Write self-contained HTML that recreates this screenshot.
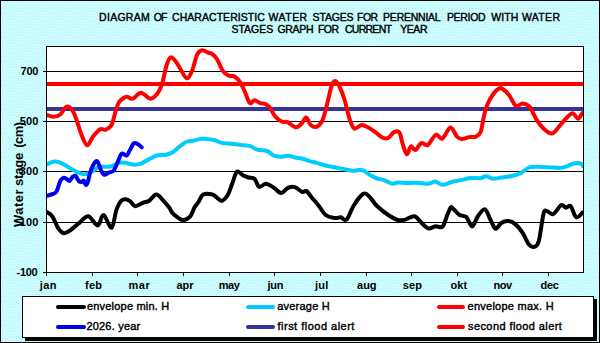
<!DOCTYPE html>
<html><head><meta charset="utf-8"><style>
html,body{margin:0;padding:0;background:#ccffff;width:600px;height:343px;overflow:hidden}
svg{display:block}
.t{font-family:"Liberation Sans",sans-serif;font-weight:bold;font-size:11px;fill:#000}
.ty{font-family:"Liberation Sans",sans-serif;font-weight:bold;font-size:13px;fill:#000}
.tt{font-family:"Liberation Sans",sans-serif;font-weight:normal;font-size:10.5px;fill:#000;stroke:#000;stroke-width:0.4px}
.tl{font-family:"Liberation Sans",sans-serif;font-weight:normal;font-size:11px;fill:#000;stroke:#000;stroke-width:0.4px}
</style></head><body>
<svg width="600" height="343" viewBox="0 0 600 343">
<defs>
<pattern id="dots" width="6" height="6" patternUnits="userSpaceOnUse">
<rect width="6" height="6" fill="#ccffff"/>
<rect x="0" y="0" width="1" height="1" fill="#bce8f0"/>
<rect x="3" y="0" width="1" height="1" fill="#bce8f0"/>
<rect x="1" y="2" width="1" height="1" fill="#bce8f0"/>
<rect x="4" y="2" width="1" height="1" fill="#bce8f0"/>
<rect x="2" y="4" width="1" height="1" fill="#bce8f0"/>
<rect x="5" y="4" width="1" height="1" fill="#bce8f0"/>
</pattern>
<clipPath id="pc"><rect x="46" y="46" width="538" height="227"/></clipPath>
</defs>
<rect x="0" y="0" width="600" height="343" fill="url(#dots)"/>
<rect x="0" y="0" width="600" height="1" fill="#000"/><rect x="0" y="0" width="1" height="343" fill="#000"/><rect x="599" y="0" width="1" height="343" fill="#000"/><rect x="0" y="342" width="600" height="1" fill="#000"/>
<rect x="46.5" y="46.5" width="537" height="226" fill="#fff"/>
<line x1="46" y1="71.5" x2="583" y2="71.5" stroke="#000" stroke-width="1"/><line x1="46" y1="121.5" x2="583" y2="121.5" stroke="#000" stroke-width="1"/><line x1="46" y1="171.5" x2="583" y2="171.5" stroke="#000" stroke-width="1"/><line x1="46" y1="222.5" x2="583" y2="222.5" stroke="#000" stroke-width="1"/><line x1="43" y1="71.5" x2="46" y2="71.5" stroke="#000" stroke-width="1"/><text x="20.5" y="75.1" class="t" textLength="17.9" lengthAdjust="spacing">700</text><line x1="43" y1="121.5" x2="46" y2="121.5" stroke="#000" stroke-width="1"/><text x="19.7" y="125.1" class="t" textLength="18.7" lengthAdjust="spacing">500</text><line x1="43" y1="171.5" x2="46" y2="171.5" stroke="#000" stroke-width="1"/><text x="19.7" y="175.1" class="t" textLength="18.7" lengthAdjust="spacing">300</text><line x1="43" y1="222.5" x2="46" y2="222.5" stroke="#000" stroke-width="1"/><text x="19.7" y="226.1" class="t" textLength="18.7" lengthAdjust="spacing">100</text><line x1="43" y1="272.5" x2="46" y2="272.5" stroke="#000" stroke-width="1"/><text x="16.6" y="276.1" class="t" textLength="20.9" lengthAdjust="spacing">-100</text><line x1="46.5" y1="272" x2="46.5" y2="276" stroke="#000" stroke-width="1"/><text x="39.7" y="288.5" class="t" textLength="16.8" lengthAdjust="spacing">jan</text><line x1="92.5" y1="272" x2="92.5" y2="276" stroke="#000" stroke-width="1"/><text x="85.0" y="288.5" class="t" textLength="17.0" lengthAdjust="spacing">feb</text><line x1="137.5" y1="272" x2="137.5" y2="276" stroke="#000" stroke-width="1"/><text x="128.6" y="288.5" class="t" textLength="21.1" lengthAdjust="spacing">mar</text><line x1="183.5" y1="272" x2="183.5" y2="276" stroke="#000" stroke-width="1"/><text x="176.4" y="288.5" class="t" textLength="17.2" lengthAdjust="spacing">apr</text><line x1="229.5" y1="272" x2="229.5" y2="276" stroke="#000" stroke-width="1"/><text x="218.8" y="288.5" class="t" textLength="21.0" lengthAdjust="spacing">may</text><line x1="274.5" y1="272" x2="274.5" y2="276" stroke="#000" stroke-width="1"/><text x="267.4" y="288.5" class="t" textLength="16.2" lengthAdjust="spacing">jun</text><line x1="320.5" y1="272" x2="320.5" y2="276" stroke="#000" stroke-width="1"/><text x="315.1" y="288.5" class="t" textLength="13.2" lengthAdjust="spacing">jul</text><line x1="366.5" y1="272" x2="366.5" y2="276" stroke="#000" stroke-width="1"/><text x="357.1" y="288.5" class="t" textLength="19.5" lengthAdjust="spacing">aug</text><line x1="411.5" y1="272" x2="411.5" y2="276" stroke="#000" stroke-width="1"/><text x="402.8" y="288.5" class="t" textLength="19.1" lengthAdjust="spacing">sep</text><line x1="457.5" y1="272" x2="457.5" y2="276" stroke="#000" stroke-width="1"/><text x="450.6" y="288.5" class="t" textLength="16.5" lengthAdjust="spacing">okt</text><line x1="502.5" y1="272" x2="502.5" y2="276" stroke="#000" stroke-width="1"/><text x="493.5" y="288.5" class="t" textLength="18.6" lengthAdjust="spacing">nov</text><line x1="548.5" y1="272" x2="548.5" y2="276" stroke="#000" stroke-width="1"/><text x="540.6" y="288.5" class="t" textLength="18.3" lengthAdjust="spacing">dec</text>
<g clip-path="url(#pc)">
<line x1="46" y1="84" x2="583" y2="84" stroke="#ff0000" stroke-width="4"/><line x1="46" y1="109" x2="583" y2="109" stroke="#333399" stroke-width="4"/><path d="M46.0,211.5 C47.0,212.3 50.2,213.5 52.2,216.2 C54.2,218.9 56.1,225.0 58.0,227.8 C59.9,230.6 61.5,233.0 63.8,233.2 C66.1,233.4 69.5,230.7 72.0,229.0 C74.5,227.3 76.3,225.2 79.0,223.1 C81.7,221.0 85.2,215.8 88.3,216.2 C91.4,216.6 95.1,225.7 97.6,225.5 C100.1,225.3 101.2,214.6 103.5,215.0 C105.8,215.4 109.5,228.6 111.6,227.8 C113.7,227.0 114.7,214.8 116.3,210.3 C117.9,205.8 119.4,202.8 121.0,201.0 C122.6,199.2 124.2,199.1 125.8,199.2 C127.4,199.3 128.9,200.3 130.5,201.5 C132.1,202.7 133.1,206.0 135.2,206.2 C137.3,206.4 141.0,203.6 143.3,202.7 C145.6,201.8 147.0,202.2 149.2,200.8 C151.3,199.4 153.9,194.6 156.2,194.5 C158.5,194.4 161.0,198.2 163.1,200.3 C165.2,202.4 167.4,205.2 169.0,207.3 C170.6,209.4 170.9,211.3 172.5,213.1 C174.1,214.8 176.6,216.6 178.3,217.8 C180.1,219.0 181.1,220.3 183.0,220.1 C184.9,219.9 188.1,218.7 190.0,216.6 C191.9,214.5 193.2,209.7 194.6,207.3 C196.0,204.9 197.1,204.1 198.5,202.0 C199.9,199.9 200.9,195.8 203.2,194.5 C205.5,193.2 210.2,193.9 212.5,194.5 C214.8,195.1 215.6,196.8 217.2,197.8 C218.8,198.9 220.1,201.3 221.8,200.8 C223.6,200.3 225.9,197.9 227.7,195.0 C229.4,192.1 230.8,187.2 232.3,183.3 C233.9,179.4 235.2,173.0 237.0,171.7 C238.8,170.3 240.9,174.2 242.8,175.2 C244.7,176.2 246.7,176.9 248.6,177.5 C250.5,178.1 252.8,177.1 254.5,178.7 C256.2,180.2 257.2,186.0 259.1,186.8 C261.0,187.7 263.6,183.6 266.1,183.8 C268.6,184.0 271.5,186.3 274.0,187.8 C276.5,189.3 278.7,193.0 281.0,193.0 C283.3,193.0 285.7,188.8 288.0,187.8 C290.3,186.8 292.7,186.4 295.0,187.1 C297.3,187.8 300.1,191.1 302.0,191.8 C303.9,192.5 305.0,190.2 306.6,191.1 C308.2,192.0 309.7,195.1 311.7,197.5 C313.7,199.9 316.4,202.8 318.7,205.7 C321.0,208.6 323.0,212.9 325.7,215.0 C328.4,217.1 332.5,217.6 335.0,218.0 C337.5,218.4 338.9,217.0 340.8,217.3 C342.7,217.6 344.5,221.5 346.6,219.6 C348.7,217.7 350.9,210.0 353.6,205.7 C356.3,201.4 360.5,195.6 363.0,194.0 C365.5,192.4 366.5,193.9 368.8,195.9 C371.1,197.9 373.6,202.7 377.0,206.0 C380.4,209.3 385.4,213.2 389.0,215.5 C392.6,217.8 395.6,219.4 398.3,220.1 C401.0,220.8 402.6,220.2 405.3,219.6 C408.0,218.9 411.9,215.6 414.6,216.2 C417.3,216.8 419.3,221.0 421.6,223.1 C423.9,225.2 426.3,228.0 428.6,228.5 C430.9,229.0 433.3,226.5 435.6,226.2 C437.9,225.9 440.7,228.5 442.6,226.6 C444.6,224.7 445.9,218.2 447.3,215.0 C448.7,211.8 449.8,208.5 450.8,207.5 C451.8,206.5 452.1,207.8 453.5,209.0 C454.9,210.2 457.2,213.5 459.3,214.8 C461.4,216.2 464.2,215.2 466.3,217.1 C468.4,219.0 470.2,226.7 472.2,226.5 C474.1,226.3 475.9,218.8 478.0,216.0 C480.1,213.2 482.9,208.6 485.0,209.4 C487.1,210.2 489.1,217.4 490.8,220.6 C492.6,223.8 493.8,228.4 495.5,228.8 C497.2,229.2 499.2,224.3 501.3,223.0 C503.4,221.7 506.0,220.9 508.3,221.1 C510.6,221.3 513.0,222.2 515.3,224.1 C517.6,226.0 520.0,228.9 522.3,232.3 C524.6,235.7 527.1,242.2 529.0,244.6 C530.9,247.0 532.3,247.4 533.9,246.9 C535.5,246.4 537.1,246.9 538.7,241.4 C540.3,235.9 542.2,219.2 543.5,214.1 C544.8,209.0 545.1,210.9 546.7,210.9 C548.3,210.9 550.7,215.1 553.1,214.1 C555.5,213.1 559.0,206.3 561.1,205.2 C563.2,204.1 564.3,207.5 565.9,207.7 C567.5,207.8 569.0,204.5 570.7,206.1 C572.4,207.7 574.2,216.2 576.2,217.3 C578.2,218.4 581.5,213.3 582.5,212.5" fill="none" stroke="#000000" stroke-width="4" stroke-linecap="round" stroke-linejoin="round"/><path d="M46.0,164.8 C47.4,164.3 51.5,161.8 54.2,161.6 C56.9,161.4 59.3,162.2 62.4,163.6 C65.5,164.9 69.0,167.9 72.6,169.7 C76.2,171.5 80.7,173.8 83.8,174.2 C86.9,174.6 88.4,173.4 91.0,172.2 C93.6,170.9 96.1,167.6 99.2,166.7 C102.3,165.8 105.7,167.4 109.4,166.7 C113.1,166.0 117.5,162.9 121.6,162.6 C125.7,162.2 130.7,164.4 133.9,164.6 C137.1,164.8 138.8,164.3 141.0,163.6 C143.2,162.8 144.7,161.4 147.3,160.1 C149.9,158.8 153.5,156.4 156.6,155.5 C159.7,154.6 163.3,155.4 166.0,154.8 C168.7,154.2 170.7,153.4 173.0,152.0 C175.3,150.6 177.7,147.9 180.0,146.2 C182.3,144.4 184.8,142.4 187.0,141.5 C189.2,140.6 190.8,141.3 193.2,140.8 C195.6,140.3 198.8,139.0 201.3,138.7 C203.8,138.4 206.0,138.9 208.3,139.2 C210.6,139.5 213.0,139.7 215.3,140.3 C217.6,141.0 219.6,142.5 222.3,143.1 C225.0,143.7 228.5,143.5 231.6,143.8 C234.7,144.1 237.9,144.6 241.0,145.0 C244.1,145.4 247.6,145.4 250.3,146.2 C253.0,147.0 254.5,148.8 257.3,149.6 C260.1,150.4 264.2,150.0 267.0,151.0 C269.8,152.0 271.7,154.7 274.0,155.7 C276.3,156.7 278.7,156.8 281.0,156.8 C283.3,156.8 285.7,155.6 288.0,155.7 C290.3,155.8 292.7,157.0 295.0,157.5 C297.3,158.0 299.7,157.9 302.0,158.5 C304.3,159.1 306.7,160.1 309.0,160.8 C311.3,161.5 313.3,161.9 316.0,162.7 C318.7,163.5 322.2,164.7 325.3,165.5 C328.4,166.3 331.4,166.7 334.6,167.3 C337.8,167.9 341.1,168.6 344.3,169.2 C347.5,169.8 350.8,170.7 353.7,170.8 C356.6,170.9 359.1,169.2 361.8,169.9 C364.5,170.6 367.5,173.6 370.0,175.0 C372.5,176.4 374.7,177.7 377.0,178.5 C379.3,179.3 381.5,179.2 384.0,180.1 C386.5,181.0 389.8,183.4 392.1,183.8 C394.4,184.2 395.5,182.5 398.0,182.4 C400.5,182.3 404.2,183.1 407.3,183.1 C410.4,183.1 413.2,182.6 416.7,182.7 C420.2,182.8 425.2,184.0 428.3,183.8 C431.4,183.6 433.0,181.3 435.3,181.5 C437.6,181.7 439.6,184.7 442.3,184.8 C445.0,184.9 448.5,182.8 451.6,182.0 C454.7,181.2 457.9,180.8 461.0,180.1 C464.1,179.4 467.1,178.3 470.3,178.0 C473.5,177.7 477.7,178.5 480.3,178.2 C482.9,177.9 484.1,176.2 486.2,176.3 C488.3,176.4 490.6,178.5 493.1,178.7 C495.6,178.9 498.2,177.9 501.3,177.5 C504.4,177.1 508.7,176.8 512.0,176.0 C515.3,175.2 518.2,174.4 521.0,173.0 C523.8,171.6 526.3,168.6 529.0,167.5 C531.7,166.4 533.0,166.7 537.0,166.7 C541.0,166.7 548.7,167.3 553.0,167.5 C557.3,167.7 559.2,168.3 562.7,167.6 C566.2,166.9 571.0,164.2 574.0,163.5 C577.0,162.8 578.9,163.1 580.4,163.5 C581.9,163.9 582.6,165.6 583.0,166.0" fill="none" stroke="#00ccff" stroke-width="4" stroke-linecap="round" stroke-linejoin="round"/><path d="M46.0,114.5 C47.2,114.9 50.9,116.8 53.3,116.8 C55.7,116.8 58.1,116.2 60.3,114.5 C62.4,112.8 64.2,107.6 66.2,106.8 C68.2,106.0 70.2,107.5 72.0,109.8 C73.8,112.0 75.2,116.2 76.7,120.3 C78.2,124.4 79.6,130.1 81.3,134.3 C83.0,138.5 85.1,144.9 87.1,145.3 C89.0,145.7 90.8,139.3 93.0,136.6 C95.2,133.9 97.9,130.4 100.0,129.2 C102.1,128.0 103.9,130.3 105.8,129.6 C107.7,128.9 110.1,127.7 111.6,125.0 C113.1,122.3 113.8,117.0 115.0,113.3 C116.2,109.6 117.3,105.3 118.6,102.8 C119.9,100.3 121.6,99.5 123.0,98.5 C124.4,97.5 125.4,96.8 127.0,96.8 C128.6,96.8 130.5,99.4 132.8,98.7 C135.1,98.0 138.1,92.8 141.0,92.8 C143.9,92.8 147.6,98.5 150.3,98.7 C153.0,98.9 155.4,96.2 157.3,93.8 C159.2,91.3 160.4,88.8 162.0,84.0 C163.6,79.2 165.0,69.8 166.6,65.3 C168.2,60.8 169.4,57.2 171.3,57.2 C173.2,57.2 175.8,61.8 178.3,65.3 C180.8,68.8 184.2,77.4 186.5,78.2 C188.8,79.0 190.6,73.9 192.3,70.0 C194.1,66.1 195.4,58.1 197.0,54.8 C198.6,51.5 200.2,50.6 202.0,50.2 C203.8,49.8 206.1,51.9 207.8,52.5 C209.6,53.1 210.9,52.9 212.5,54.1 C214.1,55.3 215.4,56.6 217.2,59.5 C218.9,62.4 221.1,68.5 223.0,71.2 C224.9,73.9 226.9,74.9 228.8,75.8 C230.7,76.7 232.7,75.3 234.6,76.5 C236.5,77.7 238.8,80.2 240.5,82.8 C242.2,85.4 243.4,88.7 245.0,92.1 C246.6,95.5 248.2,101.7 249.8,103.1 C251.4,104.5 252.8,100.3 254.5,100.3 C256.2,100.3 258.6,102.5 260.3,103.1 C262.1,103.7 263.4,103.1 265.0,103.8 C266.6,104.5 267.9,105.2 269.6,107.3 C271.3,109.4 273.0,113.8 275.0,116.2 C277.0,118.6 279.6,120.5 281.7,121.5 C283.8,122.5 285.2,121.2 287.5,122.2 C289.8,123.2 293.4,127.0 295.7,127.3 C298.0,127.6 299.8,125.4 301.5,123.8 C303.2,122.2 304.6,117.3 306.2,117.5 C307.8,117.7 309.1,123.5 310.8,125.0 C312.5,126.5 314.7,127.6 316.6,126.8 C318.6,126.0 320.8,124.1 322.5,120.3 C324.2,116.5 325.6,109.8 327.1,104.0 C328.7,98.2 330.4,89.1 331.8,85.3 C333.2,81.5 334.4,80.7 335.8,81.1 C337.2,81.5 338.5,84.5 340.0,87.7 C341.5,90.9 343.0,94.7 344.6,100.0 C346.2,105.3 348.1,114.5 349.7,119.3 C351.3,124.1 352.4,127.6 354.3,128.6 C356.2,129.6 359.0,125.3 361.3,125.1 C363.6,124.9 366.0,126.3 368.3,127.5 C370.6,128.7 373.0,130.4 375.3,132.1 C377.6,133.8 380.2,136.5 382.3,137.5 C384.4,138.5 386.2,138.9 388.1,138.0 C390.1,137.1 392.1,133.0 394.0,132.1 C395.9,131.2 398.0,130.7 399.4,132.5 C400.8,134.3 401.1,139.1 402.3,142.7 C403.5,146.3 405.2,153.5 406.7,154.1 C408.1,154.7 409.6,147.1 411.0,146.4 C412.4,145.7 413.7,150.6 415.4,150.0 C417.1,149.4 419.2,143.9 421.3,143.1 C423.4,142.2 425.4,146.3 427.8,144.9 C430.2,143.5 433.4,135.8 435.8,134.7 C438.2,133.6 440.0,139.8 442.4,138.6 C444.8,137.4 448.0,127.7 450.4,127.4 C452.8,127.1 455.1,134.7 457.0,136.6 C458.9,138.5 460.0,139.0 462.0,139.1 C464.0,139.2 466.7,137.5 469.0,137.1 C471.3,136.7 474.1,137.4 476.0,136.6 C477.9,135.8 479.2,135.5 480.6,132.0 C482.0,128.5 482.9,120.3 484.1,115.6 C485.3,110.9 486.0,107.8 487.6,104.0 C489.2,100.2 492.1,95.6 494.0,93.0 C495.9,90.4 497.7,89.2 499.0,88.5 C500.3,87.8 500.3,87.4 502.0,88.5 C503.7,89.6 506.7,92.1 509.0,95.0 C511.3,97.9 513.5,104.4 515.8,105.8 C518.1,107.2 520.4,103.3 522.7,103.5 C525.0,103.7 527.3,104.2 529.6,106.9 C531.9,109.6 534.2,116.0 536.5,119.6 C538.8,123.2 541.0,126.2 543.5,128.5 C546.0,130.8 549.3,133.7 551.8,133.5 C554.3,133.3 556.4,129.5 558.7,127.1 C561.0,124.6 563.3,121.1 565.6,118.8 C567.9,116.5 570.5,113.2 572.6,113.2 C574.7,113.2 576.4,118.8 578.0,118.8 C579.6,118.8 581.6,114.1 582.3,113.2" fill="none" stroke="#ff0000" stroke-width="4" stroke-linecap="round" stroke-linejoin="round"/><path d="M46.5,195.9 C47.5,195.6 50.6,194.9 52.2,194.2 C53.8,193.5 54.9,194.0 56.3,191.8 C57.6,189.6 59.1,183.3 60.3,181.0 C61.5,178.7 62.4,178.2 63.4,177.9 C64.4,177.6 65.5,178.4 66.5,178.9 C67.5,179.4 68.5,181.3 69.5,181.0 C70.5,180.7 71.6,177.7 72.6,176.9 C73.6,176.1 74.7,175.3 75.7,176.0 C76.7,176.7 77.7,180.0 78.7,181.0 C79.7,182.0 81.0,182.1 81.8,182.0 C82.6,181.9 83.1,180.1 83.8,180.6 C84.5,181.1 85.2,184.8 85.9,185.0 C86.6,185.2 87.3,183.5 88.0,181.5 C88.7,179.5 89.0,175.8 90.0,172.8 C91.0,169.8 92.8,165.5 94.0,163.6 C95.2,161.7 96.3,160.4 97.5,161.6 C98.7,162.8 100.1,168.6 101.2,170.8 C102.3,173.0 103.1,174.5 104.3,174.8 C105.5,175.1 106.9,173.5 108.4,172.8 C109.9,172.1 112.0,172.5 113.5,170.8 C115.0,169.1 116.2,165.4 117.5,162.6 C118.8,159.8 120.1,155.0 121.6,153.8 C123.1,152.6 125.3,156.0 126.7,155.4 C128.1,154.8 128.6,152.3 129.8,150.3 C131.0,148.3 132.5,144.2 133.9,143.2 C135.3,142.2 136.7,143.5 138.0,144.2 C139.3,144.9 141.1,146.8 141.7,147.3" fill="none" stroke="#0000ee" stroke-width="4" stroke-linecap="round" stroke-linejoin="round"/>
</g>
<rect x="46.5" y="46.5" width="537" height="226" fill="none" stroke="#000" stroke-width="1"/>
<text x="99.1" y="21" class="tt" textLength="50.6" lengthAdjust="spacing">DIAGRAM</text><text x="153.8" y="21" class="tt" textLength="13.6" lengthAdjust="spacing">OF</text><text x="172.0" y="21" class="tt" textLength="92.8" lengthAdjust="spacing">CHARACTERISTIC</text><text x="268.6" y="21" class="tt" textLength="38.6" lengthAdjust="spacing">WATER</text><text x="312.6" y="21" class="tt" textLength="41.0" lengthAdjust="spacing">STAGES</text><text x="356.9" y="21" class="tt" textLength="21.3" lengthAdjust="spacing">FOR</text><text x="383.1" y="21" class="tt" textLength="57.6" lengthAdjust="spacing">PERENNIAL</text><text x="446.9" y="21" class="tt" textLength="38.7" lengthAdjust="spacing">PERIOD</text><text x="491.2" y="21" class="tt" textLength="27.2" lengthAdjust="spacing">WITH</text><text x="521.9" y="21" class="tt" textLength="38.1" lengthAdjust="spacing">WATER</text><text x="231.4" y="33" class="tt" textLength="41.9" lengthAdjust="spacing">STAGES</text><text x="277.4" y="33" class="tt" textLength="36.3" lengthAdjust="spacing">GRAPH</text><text x="318.0" y="33" class="tt" textLength="21.0" lengthAdjust="spacing">FOR</text><text x="345.0" y="33" class="tt" textLength="46.9" lengthAdjust="spacing">CURRENT</text><text x="400.2" y="33" class="tt" textLength="27.3" lengthAdjust="spacing">YEAR</text>
<g transform="translate(22.6,0) rotate(-90)"><text x="-227" class="ty" textLength="37.6" lengthAdjust="spacing">Water</text><text x="-186" class="ty" textLength="33.2" lengthAdjust="spacing">stage</text><text x="-147.8" class="ty" textLength="25.9" lengthAdjust="spacing">(cm)</text></g>
<rect x="25" y="299" width="572" height="42" fill="#000"/><rect x="22.5" y="296.5" width="571" height="41" fill="#fff" stroke="#000" stroke-width="1"/><line x1="58" y1="307" x2="84" y2="307" stroke="#000000" stroke-width="4" stroke-linecap="round"/><text x="87.0" y="309.6" class="tl" textLength="82.2" lengthAdjust="spacing">envelope min. H</text><line x1="248" y1="307" x2="273" y2="307" stroke="#00ccff" stroke-width="4" stroke-linecap="round"/><text x="277.2" y="309.6" class="tl" textLength="52.6" lengthAdjust="spacing">average H</text><line x1="439" y1="307" x2="463" y2="307" stroke="#ff0000" stroke-width="4" stroke-linecap="round"/><text x="467.5" y="309.6" class="tl" textLength="86.2" lengthAdjust="spacing">envelope max. H</text><line x1="58" y1="327" x2="84" y2="327" stroke="#0000ee" stroke-width="4" stroke-linecap="round"/><text x="86.4" y="329.9" class="tl" textLength="53.8" lengthAdjust="spacing">2026. year</text><line x1="248" y1="327" x2="273" y2="327" stroke="#333399" stroke-width="4" stroke-linecap="round"/><text x="277.5" y="329.9" class="tl" textLength="76.9" lengthAdjust="spacing">first flood alert</text><line x1="439" y1="327" x2="463" y2="327" stroke="#ff0000" stroke-width="4" stroke-linecap="round"/><text x="468.0" y="329.9" class="tl" textLength="93.9" lengthAdjust="spacing">second flood alert</text>
</svg>
</body></html>
